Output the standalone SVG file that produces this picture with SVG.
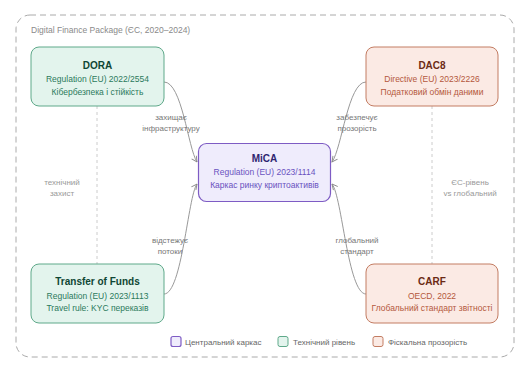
<svg xmlns="http://www.w3.org/2000/svg" width="529" height="373" viewBox="0 0 529 373">
<defs>
<marker id="arr" viewBox="0 0 10 10" refX="9" refY="5" markerWidth="7" markerHeight="7" orient="auto-start-reverse" markerUnits="userSpaceOnUse">
<path d="M1,1 L9,5 L1,9" fill="none" stroke="#8a8a8a" stroke-width="1.3"/>
</marker>
<style>
text{font-family:"Liberation Sans",Arial,sans-serif}
.frame{fill:none;stroke:#aaaaaa;stroke-width:1;stroke-dasharray:6,4}
.title{font-size:8.5px;fill:#8a8a8a}
.t{font-size:10px;font-weight:bold;text-anchor:middle}
.s{font-size:8.5px;text-anchor:middle}
.green rect{fill:#e3f4ed;stroke:#5fa98a;stroke-width:1}
.green .t{fill:#0f4634}
.green .s{fill:#2b7a5c}
.purple rect{fill:#efecfc;stroke:#7e5cc4;stroke-width:1.2}
.purple .t{fill:#2e2470}
.purple .s{fill:#6a52c0}
.orange rect{fill:#fbeae4;stroke:#c37c62;stroke-width:1}
.orange .t{fill:#6b2a14}
.orange .s{fill:#b4583c}
.edge{fill:none;stroke:#999999;stroke-width:1}
.guide{fill:none;stroke:#cccccc;stroke-width:1;stroke-dasharray:3,3}
.lbl{font-size:8px;fill:#777777;text-anchor:middle}
.note{font-size:8px;fill:#999999;text-anchor:middle}
.leg{font-size:8px;fill:#666666}
</style>
</defs>
<rect class="frame" x="16" y="15" width="498" height="342" rx="14"/>
<text class="title" x="31" y="33">Digital Finance Package (ЄС, 2020–2024)</text>

<g id="guides">
<line class="guide" x1="97" y1="106" x2="97" y2="264"/>
<line class="guide" x1="432" y1="106" x2="432" y2="264"/>
<text class="note" x="62" y="185">технічний</text>
<text class="note" x="62" y="196">захист</text>
<text class="note" x="470" y="185">ЄС-рівень</text>
<text class="note" x="470" y="196">vs глобальний</text>
</g>

<g id="connectors">
<path class="edge" d="M164,82 C182,82 188,148 197,162" marker-end="url(#arr)"/>
<path class="edge" d="M164,294 C182,294 188,196 197,184" marker-end="url(#arr)"/>
<path class="edge" d="M366,82 C348,82 342,148 332,162" marker-end="url(#arr)"/>
<path class="edge" d="M366,294 C348,294 342,196 332,184" marker-end="url(#arr)"/>
<text class="lbl" x="171" y="120">захищає</text>
<text class="lbl" x="171" y="131">інфраструктуру</text>
<text class="lbl" x="170" y="243">відстежує</text>
<text class="lbl" x="170" y="254">потоки</text>
<text class="lbl" x="357" y="120">забезпечує</text>
<text class="lbl" x="357" y="131">прозорість</text>
<text class="lbl" x="357" y="243">глобальний</text>
<text class="lbl" x="357" y="254">стандарт</text>
</g>

<g id="dora" class="green">
<rect x="31" y="47" width="133" height="59" rx="8"/>
<text class="t" x="97.5" y="68.5">DORA</text>
<text class="s" x="97.5" y="82">Regulation (EU) 2022/2554</text>
<text class="s" x="97.5" y="94.5">Кібербезпека і стійкість</text>
</g>

<g id="dac8" class="orange">
<rect x="366" y="47" width="132" height="59" rx="8"/>
<text class="t" x="432" y="68.5">DAC8</text>
<text class="s" x="432" y="82">Directive (EU) 2023/2226</text>
<text class="s" x="432" y="94.5">Податковий обмін даними</text>
</g>

<g id="mica" class="purple">
<rect x="198.5" y="143.5" width="132" height="58" rx="8"/>
<text class="t" x="264.5" y="161.5">MiCA</text>
<text class="s" x="264.5" y="175">Regulation (EU) 2023/1114</text>
<text class="s" x="264.5" y="188">Каркас ринку криптоактивів</text>
</g>

<g id="tof" class="green">
<rect x="31" y="264" width="133" height="59" rx="8"/>
<text class="t" x="97.5" y="285">Transfer of Funds</text>
<text class="s" x="97.5" y="298.5">Regulation (EU) 2023/1113</text>
<text class="s" x="97.5" y="311">Travel rule: KYC переказів</text>
</g>

<g id="carf" class="orange">
<rect x="366" y="264" width="132" height="59" rx="8"/>
<text class="t" x="432" y="285">CARF</text>
<text class="s" x="432" y="298.5">OECD, 2022</text>
<text class="s" x="432" y="311">Глобальний стандарт звітності</text>
</g>

<g id="legend">
<g class="purple"><rect x="171" y="336.5" width="10" height="10" rx="2"/></g>
<text class="leg" x="185" y="344.5">Центральний каркас</text>
<g class="green"><rect x="278" y="336.5" width="10" height="10" rx="2"/></g>
<text class="leg" x="293" y="344.5">Технічний рівень</text>
<g class="orange"><rect x="373" y="336.5" width="10" height="10" rx="2"/></g>
<text class="leg" x="388" y="344.5">Фіскальна прозорість</text>
</g>
</svg>
